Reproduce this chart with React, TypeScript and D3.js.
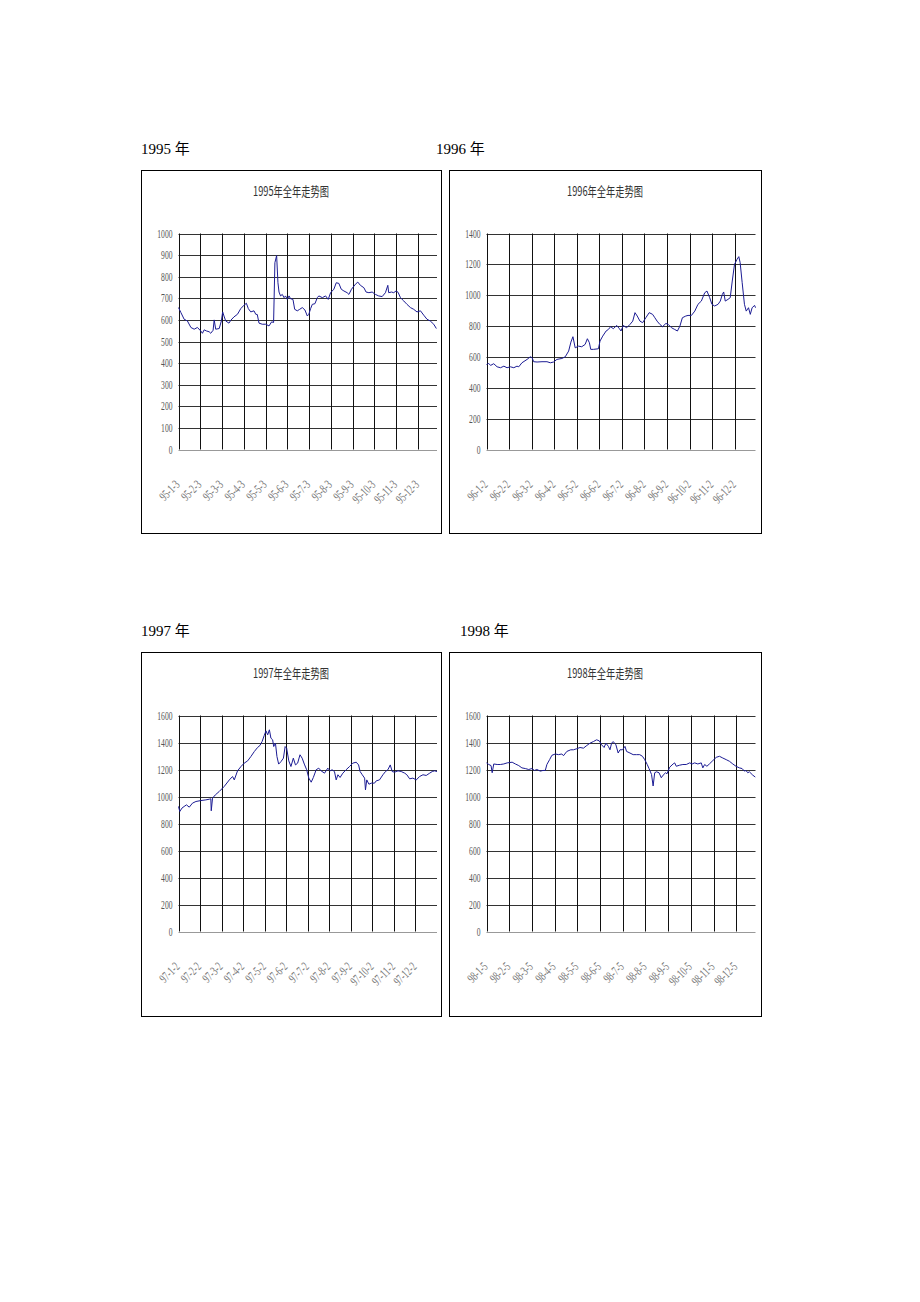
import React from 'react';
import * as d3 from 'd3';

// ---------- tick labels ----------
const labels95 = ['95-1-3', '95-2-3', '95-3-3', '95-4-3', '95-5-3', '95-6-3', '95-7-3', '95-8-3', '95-9-3', '95-10-3', '95-11-3', '95-12-3'];
const labels96 = ['96-1-2', '96-2-2', '96-3-2', '96-4-2', '96-5-2', '96-6-2', '96-7-2', '96-8-2', '96-9-2', '96-10-2', '96-11-2', '96-12-2'];
const labels97 = ['97-1-2', '97-2-2', '97-3-2', '97-4-2', '97-5-2', '97-6-2', '97-7-2', '97-8-2', '97-9-2', '97-10-2', '97-11-2', '97-12-2'];
const labels98 = ['98-1-5', '98-2-5', '98-3-5', '98-4-5', '98-5-5', '98-6-5', '98-7-5', '98-8-5', '98-9-5', '98-10-5', '98-11-5', '98-12-5'];

const yTicks95 = [0, 100, 200, 300, 400, 500, 600, 700, 800, 900, 1000];
const yTicks96 = [0, 200, 400, 600, 800, 1000, 1200, 1400];
const yTicks97 = [0, 200, 400, 600, 800, 1000, 1200, 1400, 1600];
const yTicks98 = [0, 200, 400, 600, 800, 1000, 1200, 1400, 1600];

// ---------- series: [month position, index value] ----------
const series95: [number, number][] = [
  [0, 657], [0.11, 634], [0.26, 603], [0.41, 595], [0.57, 565], [0.72, 557], [0.87, 565], [1.02, 549], [1.1, 538], [1.18, 554],
  [1.28, 549], [1.41, 545], [1.48, 538], [1.59, 552], [1.64, 600], [1.71, 557], [1.87, 560], [1.97, 595], [2.03, 637], [2.09, 618],
  [2.17, 595], [2.32, 585], [2.4, 598], [2.55, 614], [2.71, 626], [2.86, 652], [3.01, 668], [3.12, 677], [3.21, 652], [3.32, 637],
  [3.47, 642], [3.55, 626], [3.62, 625], [3.7, 585], [3.85, 580], [4.01, 580], [4.16, 572], [4.28, 591], [4.37, 588], [4.43, 865],
  [4.51, 898], [4.57, 772], [4.62, 729], [4.69, 711], [4.77, 718], [4.85, 703], [4.92, 711], [5.0, 695], [5.08, 711], [5.15, 698],
  [5.26, 695], [5.34, 649], [5.46, 642], [5.57, 649], [5.69, 657], [5.81, 646], [5.92, 618], [5.99, 626], [6.07, 652], [6.15, 672],
  [6.27, 675], [6.38, 703], [6.45, 711], [6.61, 703], [6.76, 711], [6.88, 695], [6.99, 726], [7.14, 742], [7.25, 772], [7.37, 769],
  [7.48, 742], [7.6, 734], [7.75, 726], [7.83, 718], [7.95, 742], [8.13, 765], [8.24, 775], [8.36, 760], [8.52, 749], [8.62, 729],
  [8.75, 726], [8.9, 729], [9.05, 718], [9.2, 711], [9.36, 708], [9.51, 726], [9.62, 760], [9.66, 726], [9.79, 729], [9.89, 726],
  [10.0, 734], [10.09, 728], [10.2, 703], [10.35, 688], [10.5, 672], [10.66, 657], [10.81, 649], [10.96, 637], [11.12, 642], [11.27, 622],
  [11.42, 603], [11.57, 595], [11.73, 580], [11.85, 560],
];

const series96: [number, number][] = [
  [0, 551], [0.1, 558], [0.18, 545], [0.32, 556], [0.47, 536], [0.62, 530], [0.77, 540], [0.91, 530], [1.06, 536], [1.21, 530],
  [1.35, 540], [1.43, 536], [1.57, 562], [1.8, 584], [1.94, 601], [2.02, 595], [2.09, 569], [2.24, 567], [2.46, 569], [2.68, 569],
  [2.83, 562], [2.97, 567], [3.12, 584], [3.34, 590], [3.49, 601], [3.64, 638], [3.74, 696], [3.83, 731], [3.93, 659], [4.08, 670],
  [4.22, 666], [4.37, 681], [4.47, 718], [4.56, 692], [4.62, 649], [4.74, 649], [4.96, 653], [5.03, 703], [5.15, 735], [5.3, 768],
  [5.4, 778], [5.5, 796], [5.62, 783], [5.77, 804], [5.89, 783], [5.96, 768], [6.06, 804], [6.21, 789], [6.36, 811], [6.48, 832],
  [6.58, 887], [6.68, 865], [6.8, 832], [6.92, 822], [7.06, 854], [7.21, 887], [7.36, 876], [7.46, 854], [7.56, 832], [7.68, 811],
  [7.8, 796], [7.95, 817], [8.05, 811], [8.2, 789], [8.34, 778], [8.46, 768], [8.57, 800], [8.68, 854], [8.83, 865], [8.93, 869],
  [9.08, 869], [9.23, 897], [9.37, 941], [9.52, 962], [9.67, 1016], [9.77, 1027], [9.89, 984], [9.99, 941], [10.11, 930], [10.26, 941],
  [10.36, 962], [10.45, 1005], [10.51, 1021], [10.58, 962], [10.7, 973], [10.8, 984], [10.89, 1092], [10.99, 1200], [11.1, 1232], [11.18, 1250],
  [11.24, 1211], [11.33, 1081], [11.43, 941], [11.51, 897], [11.61, 919], [11.69, 876], [11.77, 919], [11.88, 934], [11.92, 919],
];

const series97: [number, number][] = [
  [0, 926], [0.06, 889], [0.16, 914], [0.26, 926], [0.37, 938], [0.5, 921], [0.65, 951], [0.81, 963], [1.04, 970], [1.27, 975],
  [1.43, 980], [1.5, 983], [1.52, 894], [1.58, 988], [1.71, 1012], [1.89, 1037], [2.12, 1074], [2.36, 1123], [2.51, 1148], [2.59, 1123],
  [2.74, 1190], [2.9, 1222], [3.05, 1247], [3.21, 1264], [3.36, 1296], [3.52, 1333], [3.67, 1363], [3.78, 1378], [3.88, 1407], [3.98, 1452],
  [4.06, 1486], [4.14, 1457], [4.22, 1494], [4.29, 1432], [4.37, 1420], [4.42, 1370], [4.5, 1395], [4.57, 1296], [4.65, 1240], [4.76, 1259],
  [4.87, 1284], [4.95, 1370], [5.02, 1358], [5.12, 1264], [5.22, 1222], [5.33, 1284], [5.43, 1234], [5.53, 1247], [5.64, 1309], [5.74, 1284],
  [5.84, 1240], [5.95, 1198], [6.05, 1136], [6.16, 1106], [6.26, 1141], [6.39, 1198], [6.51, 1210], [6.62, 1190], [6.78, 1173], [6.93, 1210],
  [7.04, 1190], [7.13, 1198], [7.24, 1185], [7.32, 1123], [7.4, 1161], [7.5, 1141], [7.63, 1173], [7.78, 1198], [7.94, 1222], [8.09, 1247],
  [8.25, 1254], [8.36, 1234], [8.43, 1185], [8.53, 1161], [8.64, 1136], [8.68, 1049], [8.74, 1123], [8.84, 1091], [8.95, 1099], [9.1, 1099],
  [9.18, 1116], [9.33, 1123], [9.49, 1161], [9.61, 1185], [9.72, 1198], [9.83, 1234], [9.92, 1185], [10.03, 1180], [10.19, 1190], [10.34, 1185],
  [10.5, 1173], [10.6, 1161], [10.73, 1131], [10.88, 1136], [11.04, 1123], [11.19, 1148], [11.35, 1161], [11.5, 1156], [11.66, 1173], [11.78, 1185],
  [11.89, 1190], [12.0, 1185],
];

const series98: [number, number][] = [
  [0, 1249], [0.1, 1237], [0.2, 1229], [0.25, 1176], [0.32, 1241], [0.47, 1237], [0.61, 1237], [0.76, 1241], [0.91, 1249], [1.13, 1254],
  [1.27, 1241], [1.42, 1229], [1.56, 1212], [1.71, 1207], [1.86, 1200], [2.0, 1207], [2.11, 1193], [2.22, 1200], [2.37, 1188], [2.49, 1193],
  [2.59, 1193], [2.66, 1237], [2.78, 1273], [2.88, 1305], [3.03, 1315], [3.17, 1310], [3.32, 1315], [3.39, 1302], [3.54, 1334], [3.71, 1346],
  [3.83, 1346], [3.98, 1354], [4.12, 1363], [4.27, 1358], [4.42, 1378], [4.56, 1395], [4.71, 1407], [4.85, 1420], [4.97, 1412], [5.07, 1383],
  [5.18, 1363], [5.26, 1395], [5.37, 1371], [5.44, 1346], [5.51, 1395], [5.58, 1407], [5.7, 1383], [5.8, 1322], [5.88, 1346], [5.99, 1346],
  [6.1, 1371], [6.17, 1334], [6.32, 1322], [6.46, 1310], [6.61, 1310], [6.75, 1310], [6.87, 1298], [6.97, 1273], [7.08, 1237], [7.16, 1207],
  [7.27, 1163], [7.34, 1078], [7.41, 1176], [7.49, 1183], [7.6, 1176], [7.7, 1139], [7.78, 1158], [7.89, 1176], [7.95, 1168], [8.07, 1217],
  [8.22, 1241], [8.29, 1249], [8.36, 1224], [8.51, 1232], [8.65, 1237], [8.8, 1237], [8.95, 1249], [9.06, 1241], [9.17, 1249], [9.31, 1241],
  [9.46, 1249], [9.53, 1212], [9.61, 1237], [9.71, 1224], [9.82, 1241], [9.97, 1266], [10.12, 1290], [10.26, 1298], [10.41, 1285], [10.56, 1273],
  [10.7, 1261], [10.85, 1241], [10.99, 1224], [11.14, 1212], [11.26, 1207], [11.36, 1188], [11.43, 1193], [11.51, 1176], [11.58, 1183], [11.73, 1158],
  [11.84, 1144],
];

const titles = ['1995年全年走势图', '1996年全年走势图', '1997年全年走势图', '1998年全年走势图'];
const yearLabels = ['1995 年', '1996 年', '1997 年', '1998 年'];

type PanelProps = {
  frame: [number, number, number, number];
  left: number; right: number; top: number; bottom: number;
  end: number; max: number; ticks: number[]; labels: string[];
  data: [number, number][]; title: string;
};

const CJK = '"Noto Sans CJK SC", "Liberation Serif", serif';

function Panel(p: PanelProps) {
  const x = d3.scaleLinear().domain([0, p.end]).range([p.left, p.right]);
  const y = d3.scaleLinear().domain([0, p.max]).range([p.bottom, p.top]);
  const line = d3.line<[number, number]>().x((d) => x(d[0])).y((d) => y(d[1]));
  const [fx, fy, fw, fh] = p.frame;
  const crisp = (v: number) => Math.round(v) + 0.5;
  return (
    <g>
      <rect x={fx + 0.5} y={fy + 0.5} width={fw} height={fh} fill="#fff" stroke="#000" strokeWidth={1} />
      <text x={fx + fw / 2} y={fy + 26} textAnchor="middle" fontSize={13} fill="#333"
        fontFamily={CJK} textLength={p.title.length * 7.6} lengthAdjust="spacingAndGlyphs">{p.title}</text>
      {p.ticks.map((t) => (
        <g key={'h' + t}>
          <line x1={p.left} x2={p.right} y1={crisp(y(t))} y2={crisp(y(t))} stroke={t === 0 ? '#999' : '#333'} strokeWidth={1} />
          <text x={p.left - 6} y={y(t) + 4} textAnchor="end" fontSize={13} fill="#555"
            fontFamily='"Liberation Serif", serif' textLength={String(t).length * 3.8} lengthAdjust="spacingAndGlyphs">{t}</text>
        </g>
      ))}
      {p.labels.map((l, i) => (
        <g key={'v' + i}>
          <line x1={crisp(x(i))} x2={crisp(x(i))} y1={y(p.max)} y2={p.bottom} stroke="#111" strokeWidth={1} />
          <text transform={`translate(${x(i) + 2},${p.bottom + 36}) rotate(-45)`} textAnchor="end" fontSize={13}
            fill="#777" fontFamily='"Liberation Serif", serif' textLength={l.length * 3.8} lengthAdjust="spacingAndGlyphs">{l}</text>
        </g>
      ))}
      <path d={line(p.data) || ''} fill="none" stroke="#1c1c94" strokeWidth={1} strokeLinejoin="round" />
    </g>
  );
}

export default function App() {
  const panels: PanelProps[] = [
    { frame: [141, 170, 300, 363], left: 178.5, right: 437, top: 233.5, bottom: 449.5, end: 11.88, max: 1000, ticks: yTicks95, labels: labels95, data: series95, title: titles[0] },
    { frame: [449, 170, 312, 363], left: 486.5, right: 755.5, top: 233.5, bottom: 449.5, end: 11.92, max: 1400, ticks: yTicks96, labels: labels96, data: series96, title: titles[1] },
    { frame: [141, 652, 300, 364], left: 178.5, right: 437, top: 715.5, bottom: 931.5, end: 12.0, max: 1600, ticks: yTicks97, labels: labels97, data: series97, title: titles[2] },
    { frame: [449, 652, 312, 364], left: 486.5, right: 755.5, top: 715.5, bottom: 931.5, end: 11.85, max: 1600, ticks: yTicks98, labels: labels98, data: series98, title: titles[3] },
  ];
  const yearPos: [number, number][] = [[141, 154], [436, 154], [141, 636], [460, 636]];
  return (
    <svg width={920} height={1302} style={{ position: 'absolute', left: 0, top: 0, display: 'block', background: '#fff' }}>
      <rect x={0} y={0} width={920} height={1302} fill="#fff" />
      {yearLabels.map((t, i) => (
        <text key={t} x={yearPos[i][0]} y={yearPos[i][1]} fontSize={15} fill="#000" fontFamily='"Liberation Serif", "Noto Sans CJK SC", serif'>{t}</text>
      ))}
      {panels.map((p, i) => <Panel key={i} {...p} />)}
    </svg>
  );
}
